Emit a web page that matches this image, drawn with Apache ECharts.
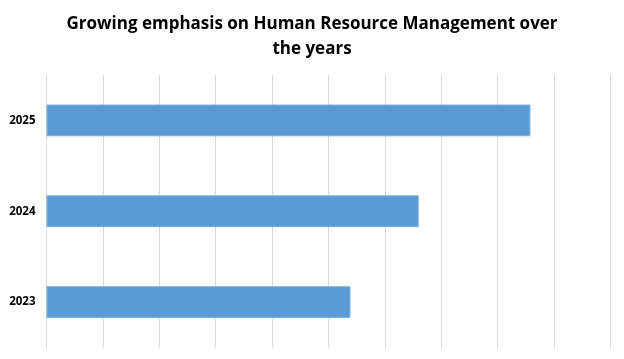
<!DOCTYPE html>
<html>
<head>
<meta charset="utf-8">
<script src="https://cdn.jsdelivr.net/npm/echarts@6/dist/echarts.min.js"></script>
<style>html,body{margin:0;padding:0;background:#fff}#c{width:624px;height:359px}</style>
</head>
<body>
<div id="c"></div>
<script>
var titleText = "Growing emphasis on Human Resource Management over\nthe years";
var categories = ["2023", "2024", "2025"];
var values = [53.9, 66.0, 85.8];

var chart = echarts.init(document.getElementById('c'), null, {renderer: 'canvas'});
chart.setOption({
  animation: false,
  backgroundColor: '#ffffff',
  title: {
    text: titleText,
    left: 'center',
    top: 7,
    textStyle: {fontFamily: 'Open Sans', fontWeight: 'bold', fontSize: 17, color: '#000', lineHeight: 25}
  },
  grid: {left: 46.5, right: 13.5, top: 75, bottom: 11.5, containLabel: false},
  xAxis: {
    type: 'value', min: 0, max: 100, interval: 10,
    axisLabel: {show: false},
    axisLine: {show: false},
    axisTick: {show: false},
    splitLine: {show: true, lineStyle: {color: '#d9d9d9', width: 1}}
  },
  yAxis: {
    type: 'category', data: categories,
    axisLine: {show: false},
    axisTick: {show: false},
    axisLabel: {fontFamily: 'Open Sans', fontWeight: 'bold', fontSize: 11.5, color: '#000', margin: 11}
  },
  series: [{
    type: 'bar', data: values, barWidth: '35%',
    itemStyle: {color: '#5b9bd5', borderColor: '#7cb0e0', borderWidth: 1}
  }]
});
</script>
</body>
</html>
